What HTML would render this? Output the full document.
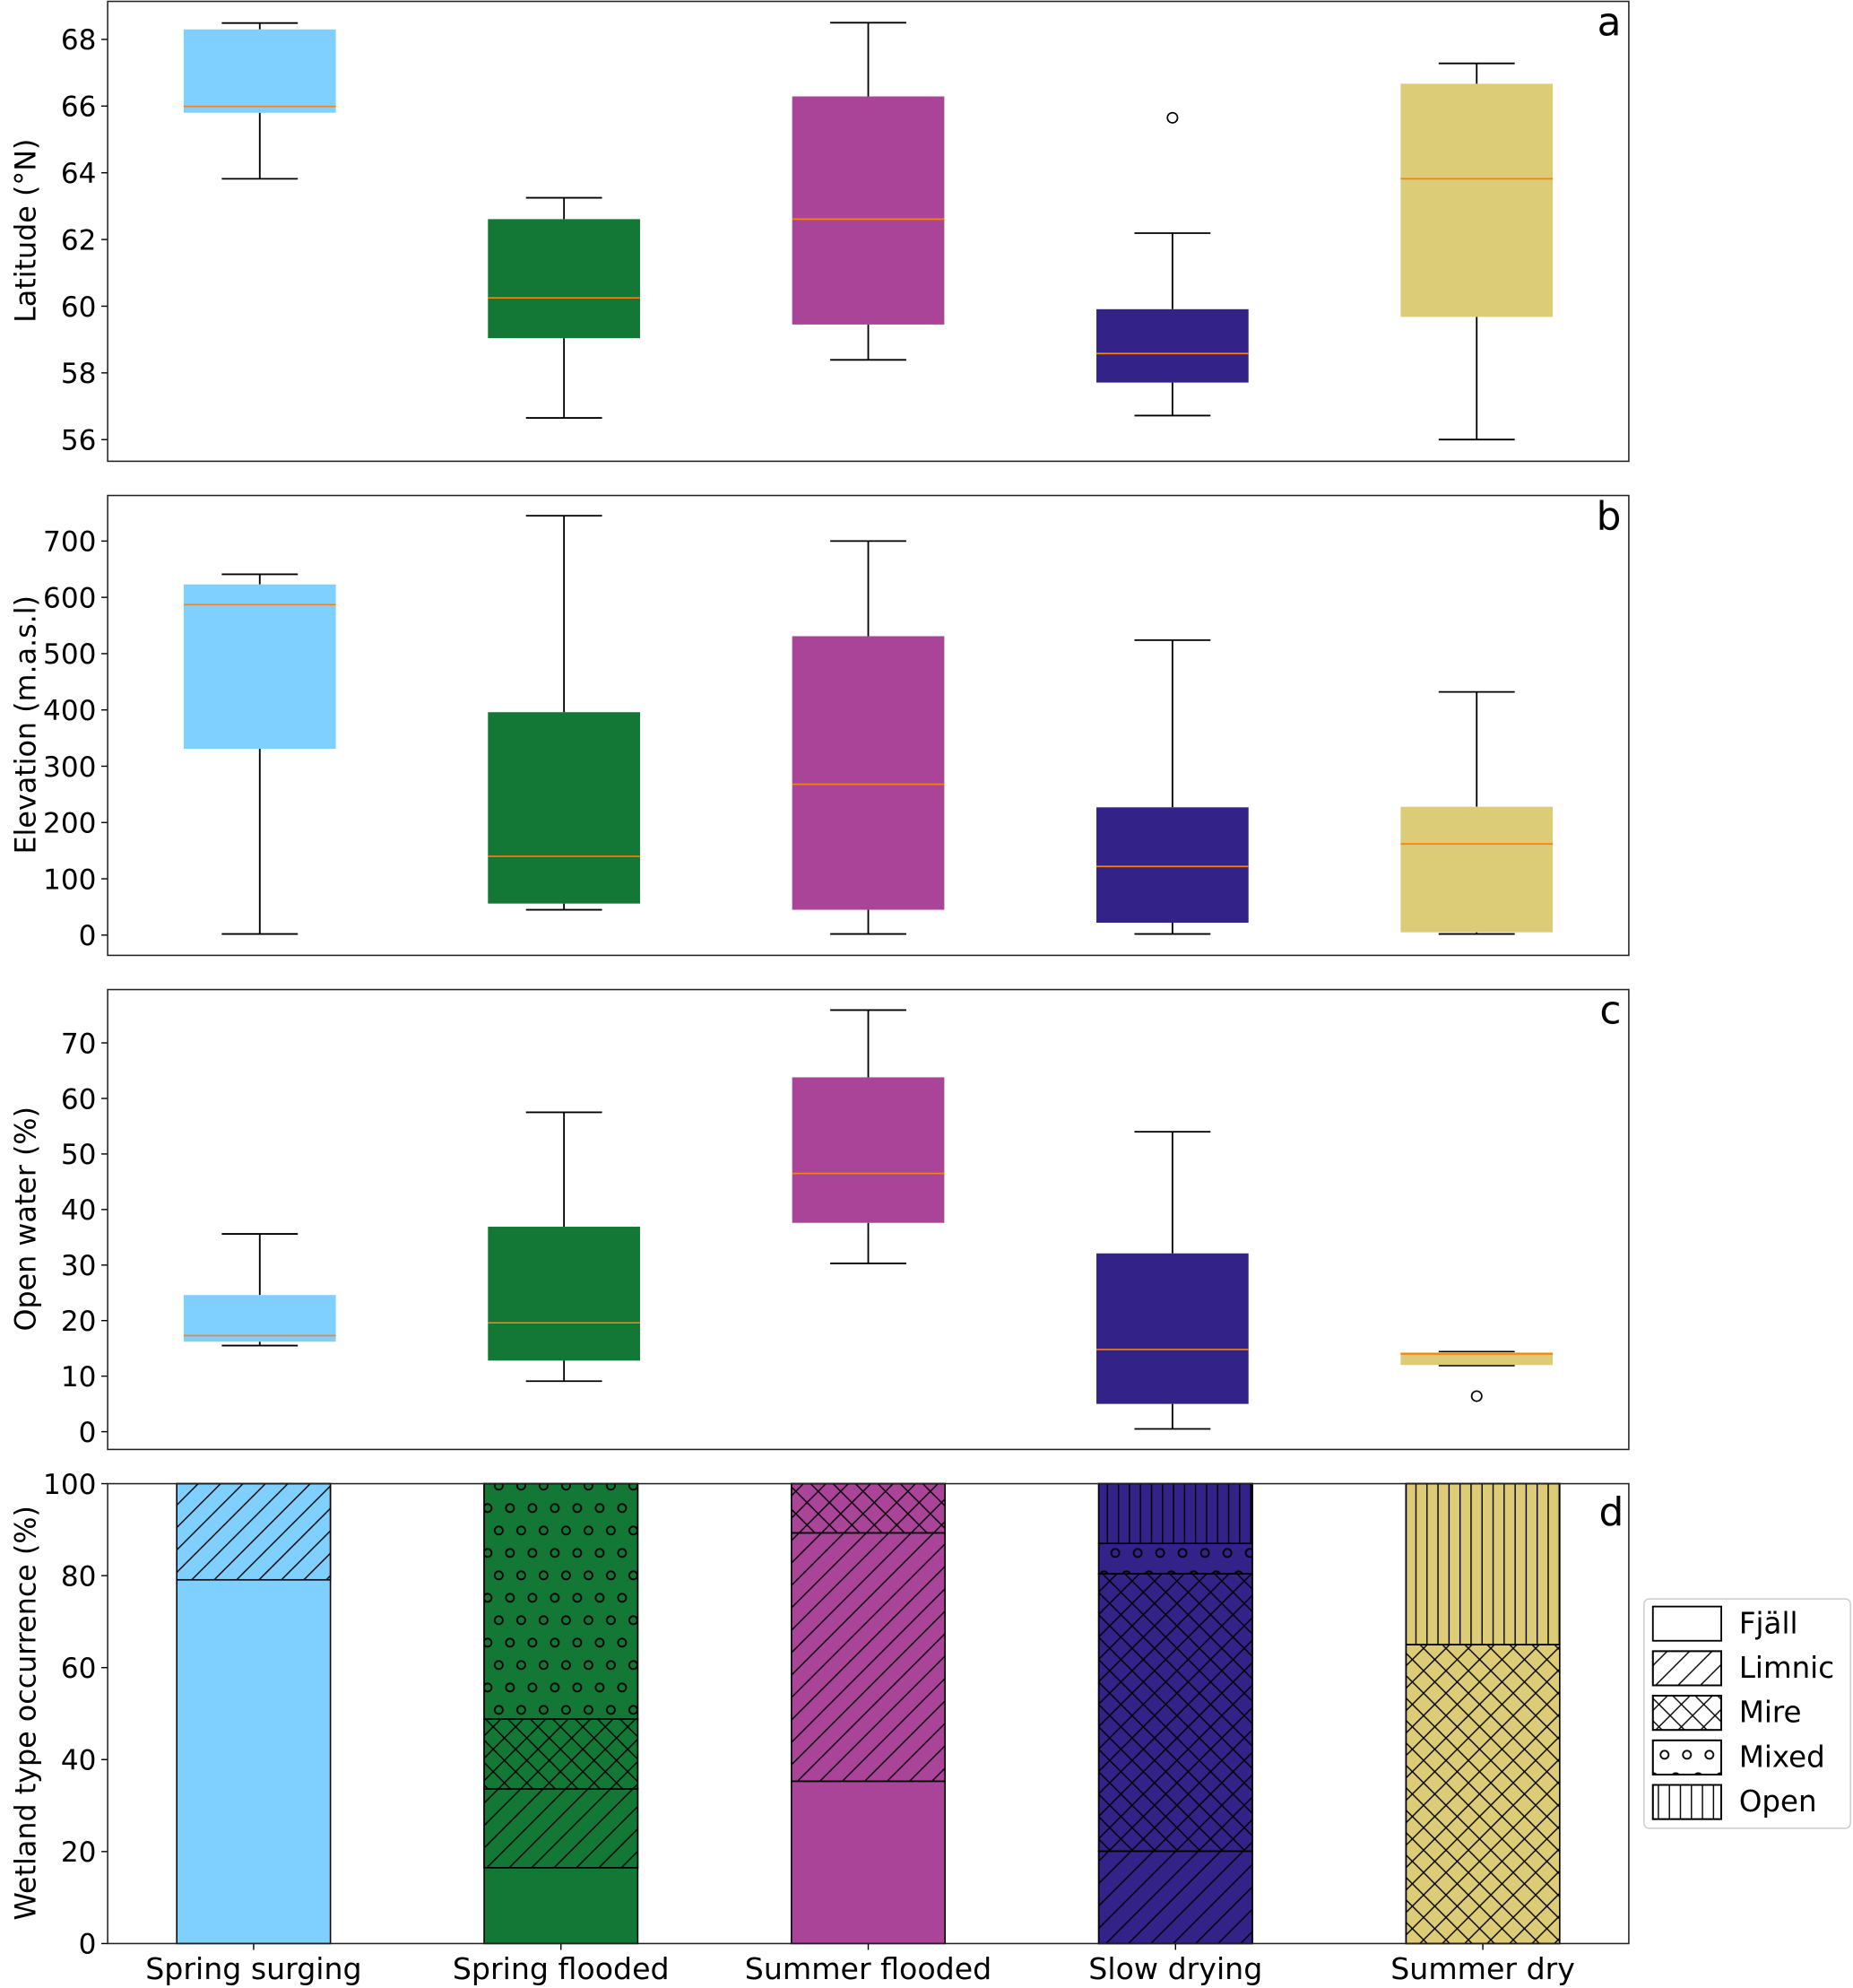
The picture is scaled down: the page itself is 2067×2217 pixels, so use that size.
<!DOCTYPE html>
<html><head><meta charset="utf-8"><style>
html,body{margin:0;padding:0;background:#fff}
svg{display:block}
text{font-family:"DejaVu Sans","Liberation Sans",sans-serif;fill:#000}
</style></head><body>
<svg id="chart" width="2067" height="2217" viewBox="0 0 1463 1569" xmlns="http://www.w3.org/2000/svg">
<defs>
<pattern id="h-limnic" patternUnits="userSpaceOnUse" width="17.7" height="17.7"><path d="M0 17.7L17.7 0M-2 2L2 -2M15.7 19.7L19.7 15.7" stroke="#000" stroke-width="1"/></pattern>
<pattern id="h-mire" patternUnits="userSpaceOnUse" width="17.7" height="17.7"><path d="M0 17.7L17.7 0M-2 2L2 -2M15.7 19.7L19.7 15.7M0 0L17.7 17.7M-2 15.7L2 19.7M15.7 -2L19.7 2" stroke="#000" stroke-width="1"/></pattern>
<pattern id="h-mixed" patternUnits="userSpaceOnUse" width="17.7" height="35.4"><g fill="none" stroke="#000" stroke-width="1.3"><circle cx="4.4" cy="4.4" r="3.2"/><circle cx="13.25" cy="22.1" r="3.2"/></g></pattern>
<pattern id="h-open" patternUnits="userSpaceOnUse" width="8.7" height="10"><path d="M4.35 0V10" stroke="#000" stroke-width="1"/></pattern>
<pattern id="h-none" patternUnits="userSpaceOnUse" width="10" height="10"></pattern>
</defs>
<g id="root"></g>
</svg>
<script>
const categories = ["Spring surging","Spring flooded","Summer flooded","Slow drying","Summer dry"];
const colors = ["#80d0ff","#137735","#aa4499","#332288","#ddcc77"];
// Panel a: latitude
const latLow = [63.82,56.65,58.39,56.72,56.0];
const latQ1 = [65.8,59.04,59.45,57.71,59.68];
const latMed = [65.99,60.25,62.61,58.58,63.82];
const latQ3 = [68.3,62.61,66.29,59.91,66.67];
const latHigh = [68.49,63.25,68.5,62.19,67.28];
const latOut = [[],[],[],[65.65],[]];
const latTicks = [56,58,60,62,64,66,68];
// Panel b: elevation
const elevLow = [2,45,2,2,2];
const elevQ1 = [331,56,45,22,5];
const elevMed = [587,140,268,122,162];
const elevQ3 = [623,396,531,227,228];
const elevHigh = [641,745,700,524,432];
const elevOut = [[],[],[],[],[]];
const elevTicks = [0,100,200,300,400,500,600,700];
// Panel c: open water
const owLow = [15.5,9.1,30.3,0.5,11.9];
const owQ1 = [16.2,12.8,37.6,5.0,12.0];
const owMed = [17.3,19.6,46.5,14.8,14.0];
const owQ3 = [24.6,36.9,63.8,32.1,14.3];
const owHigh = [35.6,57.5,75.9,54.0,14.4];
const owOut = [[],[],[],[],[6.4]];
const owTicks = [0,10,20,30,40,50,60,70];
// Panel d: wetland type occurrence (%)
const wetTypes = ["Fjäll","Limnic","Mire","Mixed","Open"];
const fjall = [79.1,16.5,35.3,0,0];
const limnic = [20.9,17.1,54.0,20.1,0];
const mire = [0,15.2,10.7,60.3,65.0];
const mixed = [0,51.2,0,6.6,0];
const open = [0,0,0,13.0,35.0];
const wetTicks = [0,20,40,60,80,100];

const NS="http://www.w3.org/2000/svg";
const root=document.getElementById('root');
function mk(tag,attrs,parent){const e=document.createElementNS(NS,tag);for(const k in attrs)e.setAttribute(k,attrs[k]);(parent||root).appendChild(e);return e;}
const X0=85,X1=1286;
const TF=22;
const YLX=28;

function boxPanel(name,top,bot,ymin,ymax,low,q1,med,q3,high,outs,ticks,ylabel,letter,labelY){
  const g=mk('g',{});
  
  
  const xs=v=>X0+(v-0.5)/5*(X1-X0);
  const ys=v=>bot-(v-ymin)/(ymax-ymin)*(bot-top);
  for(let i=0;i<categories.length;i++){
    const cx=xs(i+1),hw=0.25*(X1-X0)/5,cw=0.125*(X1-X0)/5;
    const bg=mk('g',{},g);
    
    
    mk('line',{x1:cx,x2:cx,y1:ys(q3[i]),y2:ys(high[i]),stroke:'#000','stroke-width':1.3},bg);
    mk('line',{x1:cx,x2:cx,y1:ys(q1[i]),y2:ys(low[i]),stroke:'#000','stroke-width':1.3},bg);
    mk('line',{x1:cx-cw,x2:cx+cw,y1:ys(high[i]),y2:ys(high[i]),stroke:'#000','stroke-width':1.3},bg);
    mk('line',{x1:cx-cw,x2:cx+cw,y1:ys(low[i]),y2:ys(low[i]),stroke:'#000','stroke-width':1.3},bg);
    mk('rect',{x:cx-hw,y:ys(q3[i]),width:2*hw,height:Math.max(ys(q1[i])-ys(q3[i]),0.5),fill:colors[i]},bg);
    mk('line',{x1:cx-hw,x2:cx+hw,y1:ys(med[i]),y2:ys(med[i]),stroke:'#ff7f0e','stroke-width':1.2},bg);
    outs[i].forEach(o=>{const c=mk('circle',{cx:cx,cy:ys(o),r:4,fill:'none',stroke:'#000','stroke-width':1.2},bg);
      
      });
  }
  ticks.forEach(t=>{const y=ys(t);
    mk('line',{x1:X0-5,x2:X0,y1:y,y2:y,stroke:'#000','stroke-width':1},g);
    const tx=mk('text',{x:X0-9,y:y+8,'text-anchor':'end','font-size':TF},g);tx.textContent=t;
    
    });
  const fr=mk('rect',{x:X0,y:top,width:X1-X0,height:bot-top,fill:'none',stroke:'#222','stroke-width':1.1},g);
  
  
  const yl=mk('text',{x:0,y:0,'text-anchor':'middle','font-size':22.5,transform:`translate(${YLX},${labelY}) rotate(-90)`},g);
  yl.textContent=ylabel;
  
  
  const lt=mk('text',{x:1280,y:top+27,'text-anchor':'end','font-size':31},g);lt.textContent=letter;
  
  
}
boxPanel('latitude',1,364,55.35,69.14,latLow,latQ1,latMed,latQ3,latHigh,latOut,latTicks,'Latitude (°N)','a',182);
boxPanel('elevation',391,754,-36,781,elevLow,elevQ1,elevMed,elevQ3,elevHigh,elevOut,elevTicks,'Elevation (m.a.s.l)','b',572);
boxPanel('open-water',781,1144,-3.2,79.6,owLow,owQ1,owMed,owQ3,owHigh,owOut,owTicks,'Open water (%)','c',962);

// Panel d
(function(){
  const top=1171,bot=1534;
  const g=mk('g',{});
  
  
  const xmin=-0.475,xmax=4.475;
  const xs=v=>X0+(v-xmin)/(xmax-xmin)*(X1-X0);
  const ys=v=>bot-v/100*(bot-top);
  const series=[fjall,limnic,mire,mixed,open];
  const pats=['h-none','h-limnic','h-mire','h-mixed','h-open'];
  const bw=0.5*(X1-X0)/(xmax-xmin);
  for(let i=0;i<categories.length;i++){
    let acc=0;const cx=xs(i);
    for(let s=0;s<series.length;s++){
      const v=series[s][i];if(v<=0)continue;
      const y1=ys(acc+v),y0=ys(acc);
      const r=mk('rect',{x:cx-bw/2,y:y1,width:bw,height:y0-y1,fill:colors[i],stroke:'#000','stroke-width':1.1},g);
      
      
      if(s>0)mk('rect',{x:cx-bw/2,y:y1,width:bw,height:y0-y1,fill:`url(#${pats[s]})`,stroke:'#000','stroke-width':1.1},g);
      acc+=v;
    }
    mk('line',{x1:cx,x2:cx,y1:bot,y2:bot+5,stroke:'#000','stroke-width':1},g);
    const t=mk('text',{x:cx,y:bot+28,'text-anchor':'middle','font-size':23.5},g);t.textContent=categories[i];
    
    
  }
  wetTicks.forEach(tv=>{const y=ys(tv);
    mk('line',{x1:X0-5,x2:X0,y1:y,y2:y,stroke:'#000','stroke-width':1},g);
    const tx=mk('text',{x:X0-9,y:y+8,'text-anchor':'end','font-size':TF},g);tx.textContent=tv;
    
    });
  mk('rect',{x:X0,y:top,width:X1-X0,height:bot-top,fill:'none',stroke:'#222','stroke-width':1.1},g);
  const yl=mk('text',{x:0,y:0,'text-anchor':'middle','font-size':22.5,transform:`translate(${YLX},1352) rotate(-90)`},g);
  yl.textContent='Wetland type occurrence (%)';
  
  
  const lt=mk('text',{x:1282,y:top+33,'text-anchor':'end','font-size':31},g);lt.textContent='d';
  
  
  // legend
  const lg=mk('g',{},g);
  
  
  mk('rect',{x:1298,y:1262,width:163,height:181,rx:4,fill:'#fff',stroke:'#ccc','stroke-width':1},lg);
  wetTypes.forEach((n,k)=>{
    const y=1268+k*35.2;
    const e=mk('g',{},lg);
    
    
    mk('rect',{x:1305,y:y,width:54,height:27,fill:'#fff',stroke:'#000','stroke-width':1.3},e);
    if(k>0)mk('rect',{x:1305,y:y,width:54,height:27,fill:`url(#${pats[k]})`,stroke:'#000','stroke-width':1.3},e);
    const t=mk('text',{x:1373,y:y+21,'font-size':23},e);t.textContent=n;
  });
})();
</script>
</body></html>
